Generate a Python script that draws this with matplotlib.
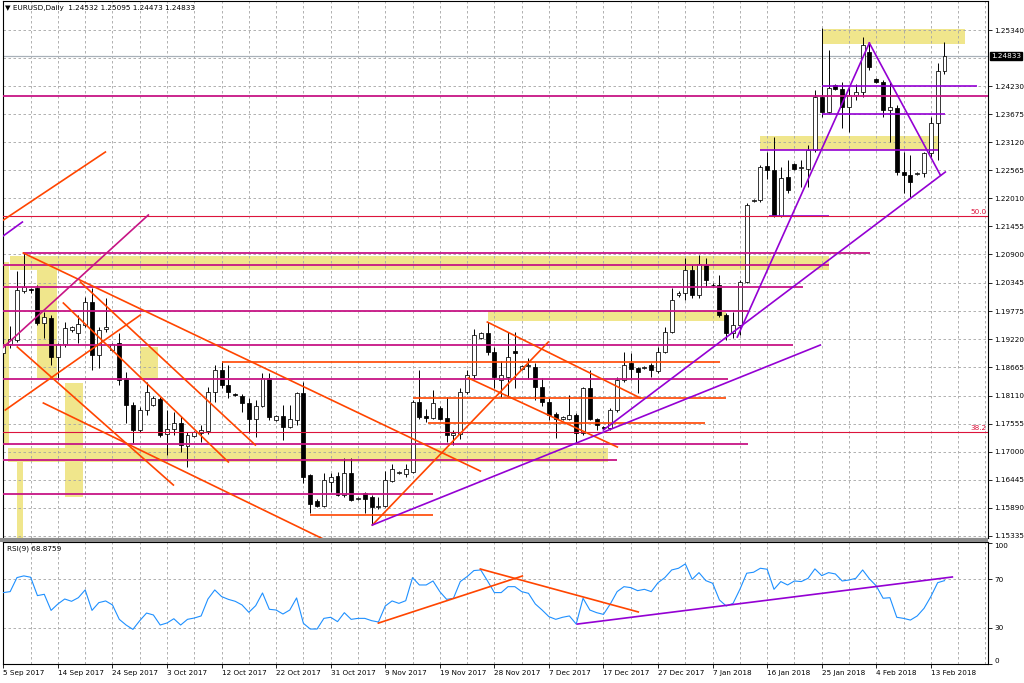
import matplotlib
matplotlib.use("Agg")
import matplotlib.pyplot as plt
from matplotlib.patches import Rectangle
import matplotlib.transforms as mtransforms

# ---------------- data (EURUSD daily, bar index 0 = 5 Sep 2017) ----------------
open_ = [1.1895, 1.1913, 1.1921, 1.2018, 1.2022, 1.2024, 1.1954, 1.1964, 1.1887, 1.1913,
         1.1940, 1.1935, 1.1950, 1.1996, 1.1891, 1.1942, 1.1901, 1.1915, 1.1846, 1.1793,
         1.1743, 1.1782, 1.1793, 1.1804, 1.1735, 1.1745, 1.1757, 1.1711, 1.1731, 1.1737,
         1.1741, 1.1818, 1.1861, 1.1832, 1.1814, 1.1810, 1.1796, 1.1765, 1.1790, 1.1846,
         1.1763, 1.1771, 1.1749, 1.1763, 1.1816, 1.1654, 1.1602, 1.1592, 1.1640, 1.1652,
         1.1614, 1.1658, 1.1606, 1.1618, 1.1610, 1.1590, 1.1592, 1.1642, 1.1658, 1.1656,
         1.1660, 1.1798, 1.1771, 1.1767, 1.1786, 1.1767, 1.1733, 1.1735, 1.1818, 1.1852,
         1.1925, 1.1935, 1.1897, 1.1842, 1.1848, 1.1900, 1.1863, 1.1869, 1.1867, 1.1828,
         1.1798, 1.1774, 1.1765, 1.1765, 1.1773, 1.1737, 1.1826, 1.1765, 1.1749, 1.1747,
         1.1782, 1.1842, 1.1875, 1.1865, 1.1865, 1.1871, 1.1859, 1.1897, 1.1937, 1.2010,
         1.2014, 1.2059, 1.2010, 1.2069, 1.2030, 1.2030, 1.1970, 1.1935, 1.1951, 1.2036,
         1.2196, 1.2198, 1.2265, 1.2257, 1.2166, 1.2243, 1.2269, 1.2261, 1.2259, 1.2297,
         1.2401, 1.2372, 1.2425, 1.2417, 1.2382, 1.2405, 1.2411, 1.2490, 1.2437, 1.2431,
         1.2376, 1.2380, 1.2253, 1.2247, 1.2249, 1.2251, 1.2291, 1.2350, 1.24532]
high = [1.1941, 1.1949, 1.2057, 1.2093, 1.2024, 1.2030, 1.1976, 1.1970, 1.1915, 1.1956,
        1.1948, 1.1970, 1.2006, 1.2024, 1.1947, 1.2004, 1.1915, 1.1935, 1.1858, 1.1798,
        1.1788, 1.1838, 1.1810, 1.1808, 1.1782, 1.1778, 1.1770, 1.1739, 1.1741, 1.1753,
        1.1828, 1.1871, 1.1879, 1.1871, 1.1816, 1.1814, 1.1806, 1.1802, 1.1856, 1.1856,
        1.1773, 1.1792, 1.1792, 1.1818, 1.1838, 1.1656, 1.1606, 1.1658, 1.1658, 1.1660,
        1.1687, 1.1687, 1.1610, 1.1620, 1.1614, 1.1610, 1.1661, 1.1676, 1.1662, 1.1676,
        1.1802, 1.1861, 1.1785, 1.1822, 1.1790, 1.1808, 1.1743, 1.1826, 1.1861, 1.1943,
        1.1937, 1.1956, 1.1907, 1.1880, 1.1937, 1.1937, 1.1871, 1.1885, 1.1875, 1.1846,
        1.1806, 1.1778, 1.1771, 1.1812, 1.1776, 1.1828, 1.1861, 1.1767, 1.1751, 1.1786,
        1.1848, 1.1897, 1.1895, 1.1867, 1.1869, 1.1875, 1.1907, 1.1947, 1.2024, 1.2018,
        1.2083, 1.2069, 1.2089, 1.2083, 1.2034, 1.2049, 1.1974, 1.1976, 1.2040, 1.2192,
        1.2200, 1.2267, 1.2293, 1.2322, 1.2263, 1.2277, 1.2271, 1.2277, 1.2307, 1.2415,
        1.2538, 1.2494, 1.2427, 1.2431, 1.2421, 1.2427, 1.2520, 1.2508, 1.2439, 1.2435,
        1.2431, 1.2386, 1.2293, 1.2287, 1.2253, 1.2293, 1.2362, 1.2469, 1.25095]
low = [1.1868, 1.1905, 1.1917, 1.2014, 1.2014, 1.1950, 1.1925, 1.1871, 1.1842, 1.1907,
       1.1936, 1.1915, 1.1946, 1.1861, 1.1865, 1.1936, 1.1899, 1.1832, 1.1757, 1.1717,
       1.1739, 1.1772, 1.1790, 1.1729, 1.1693, 1.1733, 1.1700, 1.1670, 1.1729, 1.1719,
       1.1735, 1.1798, 1.1826, 1.1806, 1.1810, 1.1778, 1.1737, 1.1729, 1.1788, 1.1763,
       1.1761, 1.1723, 1.1747, 1.1753, 1.1638, 1.1579, 1.1590, 1.1590, 1.1620, 1.1612,
       1.1610, 1.1602, 1.1604, 1.1579, 1.1555, 1.1586, 1.1590, 1.1640, 1.1656, 1.1650,
       1.1657, 1.1765, 1.1759, 1.1765, 1.1763, 1.1719, 1.1713, 1.1725, 1.1814, 1.1846,
       1.1923, 1.1891, 1.1826, 1.1808, 1.1808, 1.1826, 1.1861, 1.1843, 1.1802, 1.1790,
       1.1763, 1.1727, 1.1763, 1.1763, 1.1717, 1.1733, 1.1763, 1.1743, 1.1745, 1.1743,
       1.1778, 1.1838, 1.1842, 1.1816, 1.1863, 1.1848, 1.1855, 1.1895, 1.1935, 1.2006,
       1.2000, 1.2004, 1.2004, 1.2026, 1.2026, 1.1966, 1.1921, 1.1925, 1.1931, 1.2034,
       1.2194, 1.2194, 1.2240, 1.2164, 1.2164, 1.2212, 1.2257, 1.2223, 1.2223, 1.2293,
       1.2362, 1.2370, 1.2415, 1.2340, 1.2332, 1.2395, 1.2401, 1.2455, 1.2429, 1.2362,
       1.2312, 1.2247, 1.2212, 1.2204, 1.2247, 1.2243, 1.2283, 1.2277, 1.24473]
close = [1.1911, 1.1923, 1.2020, 1.2026, 1.2020, 1.1954, 1.1966, 1.1887, 1.1913, 1.1945,
         1.1946, 1.1952, 1.1996, 1.1891, 1.1941, 1.1946, 1.1913, 1.1842, 1.1793, 1.1743,
         1.1782, 1.1818, 1.1806, 1.1733, 1.1745, 1.1757, 1.1713, 1.1733, 1.1739, 1.1743,
         1.1818, 1.1861, 1.1832, 1.1818, 1.1812, 1.1796, 1.1765, 1.1790, 1.1846, 1.1769,
         1.1771, 1.1749, 1.1765, 1.1816, 1.1650, 1.1596, 1.1592, 1.1644, 1.1650, 1.1614,
         1.1658, 1.1604, 1.1608, 1.1606, 1.1590, 1.1593, 1.1644, 1.1666, 1.1660, 1.1666,
         1.1798, 1.1769, 1.1767, 1.1796, 1.1765, 1.1733, 1.1737, 1.1818, 1.1852, 1.1931,
         1.1935, 1.1897, 1.1848, 1.1852, 1.1887, 1.1896, 1.1869, 1.1871, 1.1828, 1.1798,
         1.1772, 1.1765, 1.1769, 1.1773, 1.1737, 1.1826, 1.1765, 1.1753, 1.1747, 1.1782,
         1.1842, 1.1871, 1.1863, 1.1857, 1.1867, 1.1861, 1.1897, 1.1937, 1.2000, 1.2014,
         1.2059, 1.2010, 1.2071, 1.2039, 1.2030, 1.1970, 1.1935, 1.1951, 1.2036, 1.2188,
         1.2198, 1.2263, 1.2257, 1.2166, 1.2241, 1.2218, 1.2259, 1.2263, 1.2297, 1.2401,
         1.2372, 1.2419, 1.2417, 1.2382, 1.2405, 1.2411, 1.2504, 1.2461, 1.2431, 1.2376,
         1.2382, 1.2253, 1.2247, 1.2233, 1.2251, 1.2291, 1.2350, 1.2453, 1.24833]
rsi = [59.0, 59.8, 71.4, 72.8, 71.7, 56.5, 57.6, 44.3, 49.6, 53.7,
       51.8, 54.8, 61.2, 44.3, 50.7, 52.1, 48.8, 36.9, 32.2, 28.6,
       35.8, 42.1, 40.5, 32.2, 33.9, 37.4, 32.2, 36.9, 38.0, 39.7,
       53.7, 61.2, 55.7, 53.4, 51.8, 48.8, 42.7, 48.2, 58.7, 45.2,
       44.6, 41.3, 44.6, 54.6, 33.6, 28.9, 28.9, 37.7, 38.6, 35.0,
       42.4, 36.9, 37.7, 37.7, 35.8, 34.7, 47.9, 52.1, 50.1, 52.3,
       71.4, 65.3, 65.3, 68.6, 59.8, 53.4, 54.3, 68.1, 72.2, 77.2,
       77.7, 68.6, 59.0, 59.0, 63.9, 63.9, 59.8, 58.4, 49.6, 44.6,
       39.1, 36.9, 38.6, 39.7, 33.0, 54.3, 44.6, 42.4, 41.0, 49.6,
       59.8, 63.9, 63.1, 60.6, 61.7, 59.8, 67.2, 71.4, 77.7, 79.1,
       82.7, 70.0, 75.5, 68.9, 66.7, 52.9, 47.9, 50.1, 61.7, 75.0,
       75.8, 79.1, 78.3, 61.7, 68.1, 65.3, 68.6, 68.1, 70.8, 78.6,
       73.0, 75.5, 74.4, 68.6, 69.4, 70.8, 77.7, 70.3, 64.5, 54.3,
       54.8, 38.6, 37.7, 36.3, 39.7, 46.0, 55.7, 67.2, 68.8759]

date_labels = ["5 Sep 2017", "14 Sep 2017", "24 Sep 2017", "3 Oct 2017", "12 Oct 2017",
               "22 Oct 2017", "31 Oct 2017", "9 Nov 2017", "19 Nov 2017", "28 Nov 2017",
               "7 Dec 2017", "17 Dec 2017", "27 Dec 2017", "7 Jan 2018", "16 Jan 2018",
               "25 Jan 2018", "4 Feb 2018", "13 Feb 2018"]
date_label_bars = [0, 8, 16, 24, 32, 40, 48, 56, 64, 72, 80, 88, 96, 104, 112, 120, 128, 136]
price_ticks = [1.25340, 1.24230, 1.23675, 1.23120, 1.22565, 1.22010, 1.21455, 1.20900,
               1.20345, 1.19775, 1.19220, 1.18665, 1.18110, 1.17555, 1.17000, 1.16445,
               1.15890, 1.15335]
rsi_ticks = [100, 70, 30, 0]
last_price = 1.24833
header = "\u25bc EURUSD,Daily  1.24532 1.25095 1.24473 1.24833"
rsi_title = "RSI(9) 68.8759"

# chart objects: (price, bar_from, bar_to)
magenta_levels = [(1.24035, -1, 145), (1.20929, 2.93, 127.1), (1.20692, -1, 121.0),
                  (1.20257, -1, 117.2), (1.19782, -1, 109.2), (1.19109, -1, 115.8),
                  (1.18437, -1, 106.3), (1.17151, -1, 109.2), (1.16835, -1, 90.0),
                  (1.16162, -1, 63.0)]
orange_levels = [(1.18773, 32.1, 105.1), (1.18061, 60.1, 105.9), (1.17566, 62.2, 102.9),
                 (1.15747, 45.0, 63.0)]
purple_levels = [(1.24232, 120.1, 142.8), (1.23678, 120.1, 138.1), (1.22966, 111.0, 137.1),
                 (1.21661, 112.2, 121.0)]
fibo_levels = [(1.21661, "50.0"), (1.17388, "38.2")]
# rectangles: (bar_from, bar_to, price_low, price_high)
zones = [(120.1, 141.0, 1.2506, 1.2536), (111.0, 137.1, 1.2297, 1.2324),
         (1.0, 121.0, 1.2059, 1.2087), (71.0, 105.9, 1.1958, 1.1978),
         (0.7, 88.7, 1.1680, 1.1707), (-1.0, 0.9, 1.1713, 1.2075),
         (5.0, 7.9, 1.1846, 1.2059), (9.1, 11.7, 1.1610, 1.1836),
         (20.1, 22.7, 1.1846, 1.1907), (2.05, 2.9, 1.1529, 1.1680)]
# trend lines: (bar0, price0, bar1, price1)
orange_trends = [(-0.44, 1.21542, 14.96, 1.22927), (2.93, 1.20929, 69.94, 1.16617),
                 (11.29, 1.20355, 36.95, 1.17131), (8.80, 1.19940, 32.99, 1.16795),
                 (0.29, 1.17824, 20.09, 1.19703), (2.05, 1.19070, 24.93, 1.16340),
                 (5.87, 1.17962, 47.21, 1.15252), (54.11, 1.15549, 79.91, 1.19169),
                 (70.97, 1.19564, 93.40, 1.18061), (68.18, 1.18457, 90.03, 1.17092)]
purple_trends = [(54.11, 1.15549, 119.79, 1.19109), (87.98, 1.17428, 138.12, 1.22531),
                 (107.62, 1.19267, 126.98, 1.25083), (126.98, 1.25083, 137.39, 1.22472),
                 (-0.44, 1.21226, 2.79, 1.21542)]
magenta_trends = [(-0.44, 1.19010, 21.26, 1.21681)]
rsi_orange_trends = [(54.99, 33.8, 76.1, 72.7), (69.94, 78.5, 93.1, 43.0)]
rsi_purple_trends = [(84.16, 33.0, 139.15, 71.9)]

# ---------------- styling ----------------
MAGENTA = "#C71585"
ORANGE = "#FF4500"
PURPLE = "#9400D3"
FIBO = "#DC143C"
KHAKI = "#F0E68C"
GRID = "#A4A4A4"
FS = 5.2
plt.rcParams["font.family"] = ["DejaVu Sans"]

W, H = 1024, 683
fig = plt.figure(figsize=(W / 100, H / 100), dpi=100)
fig.patch.set_facecolor("white")

def fx(px):
    return px / W

def fy(py):
    return 1 - py / H

ax = fig.add_axes([fx(3), fy(538), fx(985), 537 / H])
axr = fig.add_axes([fx(3), fy(664), fx(985), 122 / H])

XMIN, XMAX = -0.05, 144.38
for a in (ax, axr):
    a.set_xlim(XMIN, XMAX)
    for s in a.spines.values():
        s.set_color("black")
        s.set_linewidth(0.8)
ax.set_ylim(1.15292, 1.25914)
axr.set_ylim(0, 100.8)

# grid
grid_kw = dict(color=GRID, lw=0.6, ls=(0, (3, 3)), zorder=1.5)
for a in (ax, axr):
    for b in range(4, 145, 4):
        a.axvline(b, **grid_kw)
for p in price_ticks + [1.24785]:
    ax.axhline(p, **grid_kw)
for r in (70, 30):
    axr.axhline(r, **grid_kw)

# zones
for b0, b1, p0, p1 in zones:
    ax.add_patch(Rectangle((b0, p0), b1 - b0, p1 - p0, facecolor=KHAKI,
                           edgecolor="none", zorder=1))

# bid line
ax.axhline(last_price, color="#A8B0B8", lw=0.9, zorder=2)

# candles
n = len(close)
xs = list(range(n))
ax.vlines(xs, low, high, color="black", lw=0.7, zorder=3)
bottoms, heights, colors = [], [], []
for o, c in zip(open_, close):
    bottoms.append(min(o, c))
    heights.append(max(abs(c - o), 0.00005))
    colors.append("white" if c >= o else "black")
ax.bar(xs, heights, bottom=bottoms, width=0.58, color=colors, edgecolor="black",
       linewidth=0.55, zorder=3.5)

# levels
for p, b0, b1 in magenta_levels:
    ax.plot([b0, b1], [p, p], color=MAGENTA, lw=1.3, zorder=4, solid_capstyle="butt")
for p, b0, b1 in orange_levels:
    ax.plot([b0, b1], [p, p], color=ORANGE, lw=1.2, zorder=4, solid_capstyle="butt")
for p, b0, b1 in purple_levels:
    ax.plot([b0, b1], [p, p], color=PURPLE, lw=1.2, zorder=4, solid_capstyle="butt")
for p, lab in fibo_levels:
    ax.axhline(p, color=FIBO, lw=0.8, zorder=4)
    ax.text(144.2, p + 0.0002, lab, color=FIBO, fontsize=FS, ha="right", va="bottom", zorder=5)

for b0, p0, b1, p1 in orange_trends:
    ax.plot([b0, b1], [p0, p1], color=ORANGE, lw=1.2, zorder=4)
for b0, p0, b1, p1 in purple_trends:
    ax.plot([b0, b1], [p0, p1], color=PURPLE, lw=1.2, zorder=4)
for b0, p0, b1, p1 in magenta_trends:
    ax.plot([b0, b1], [p0, p1], color=MAGENTA, lw=1.2, zorder=4)

# RSI
axr.plot(xs, rsi, color="#1E90FF", lw=0.8, zorder=3)
for b0, r0, b1, r1 in rsi_orange_trends:
    axr.plot([b0, b1], [r0, r1], color=ORANGE, lw=1.2, zorder=4)
for b0, r0, b1, r1 in rsi_purple_trends:
    axr.plot([b0, b1], [r0, r1], color=PURPLE, lw=1.2, zorder=4)

# axes ticks
ax.yaxis.tick_right()
ax.set_yticks(price_ticks)
ax.set_yticklabels(["%.5f" % p for p in price_ticks])
ax.tick_params(axis="y", length=3, width=0.6, pad=1.5, labelsize=FS, colors="black")
ax.tick_params(axis="x", length=0, labelbottom=False)

axr.yaxis.tick_right()
axr.set_yticks(rsi_ticks)
axr.set_yticklabels([str(r) for r in rsi_ticks])
axr.tick_params(axis="y", length=3, width=0.6, pad=1.5, labelsize=FS)
for lbl, r in zip(axr.get_yticklabels(), rsi_ticks):
    if r == 100:
        lbl.set_va("top")
    elif r == 0:
        lbl.set_va("bottom")
axr.set_xticks(date_label_bars)
axr.set_xticklabels(date_labels, ha="left")
axr.tick_params(axis="x", length=3, width=0.6, pad=1.5, labelsize=FS)

# current price tag
trans = mtransforms.blended_transform_factory(ax.transAxes, ax.transData)
ax.text(1.003, last_price, "1.24833", transform=trans, fontsize=FS, color="white",
        va="center", ha="left", zorder=6,
        bbox=dict(boxstyle="square,pad=0.15", facecolor="black", edgecolor="black"))

# panel separator
fig.add_artist(Rectangle((0, fy(542)), fx(988), 4 / H, transform=fig.transFigure,
                         facecolor="#8C8C8C", edgecolor="none"))

# texts
fig.text(fx(5), fy(8), header, fontsize=FS, color="black", ha="left", va="center")
fig.text(fx(7), fy(549), rsi_title, fontsize=FS, color="black", ha="left", va="center")

fig.savefig("out.png", dpi=100)
